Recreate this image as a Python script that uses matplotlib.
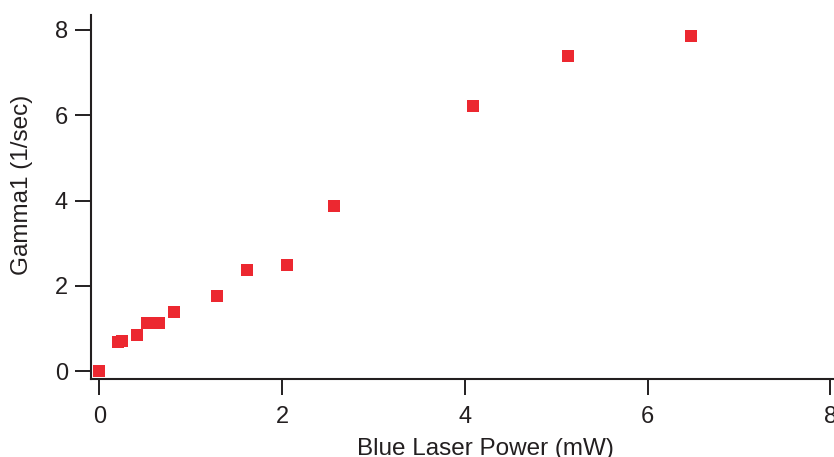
import matplotlib
matplotlib.use("Agg")
import matplotlib.pyplot as plt

# Blue laser power (mW) and fitted decay rate Gamma1 (1/sec)
power_mw = [0.00, 0.21, 0.25, 0.41, 0.52, 0.65, 0.82, 1.29, 1.62, 2.05, 2.57, 4.09, 5.13, 6.47]
gamma1 = [0.00, 0.68, 0.70, 0.85, 1.14, 1.14, 1.38, 1.76, 2.37, 2.49, 3.87, 6.21, 7.39, 7.86]

x_ticks = [0, 2, 4, 6, 8]
y_ticks = [0, 2, 4, 6, 8]

plt.rcParams['font.family'] = ['Liberation Sans', 'DejaVu Sans']

W, H = 834, 457
fig = plt.figure(figsize=(W / 100, H / 100), dpi=100)
left, right, top, bottom = 91, 834, 15, 379
ax = fig.add_axes([left / W, 1 - bottom / H, (right - left) / W, (bottom - top) / H])

ax.plot(power_mw, gamma1, linestyle='none', marker='s', markersize=8.2,
        color='#EC2830', markeredgewidth=0, clip_on=False)

ax.set_xlim(-0.09, 8.04)
ax.set_ylim(-0.18, 8.35)
ax.set_xticks(x_ticks)
ax.set_yticks(y_ticks)
ax.set_xticklabels([str(t) for t in x_ticks])
ax.set_yticklabels([str(t) for t in y_ticks])

for side in ('top', 'right'):
    ax.spines[side].set_visible(False)
for side in ('left', 'bottom'):
    ax.spines[side].set_linewidth(1.5)
    ax.spines[side].set_color('#231F20')

ax.tick_params(direction='out', length=11.5, width=1.4, colors='#231F20',
               labelsize=17)
ax.tick_params(axis='y', pad=5)
ax.tick_params(axis='x', pad=8)

fig.text(22 / W, 1 - 185 / H, 'Gamma1 (1/sec)', rotation=90, ha='center', va='center',
         fontsize=17.5, color='#231F20')
fig.text(485 / W, 1 - 455 / H, 'Blue Laser Power (mW)', ha='center', va='baseline',
         fontsize=17.5, color='#231F20')

fig.savefig('out.png', dpi=100)
